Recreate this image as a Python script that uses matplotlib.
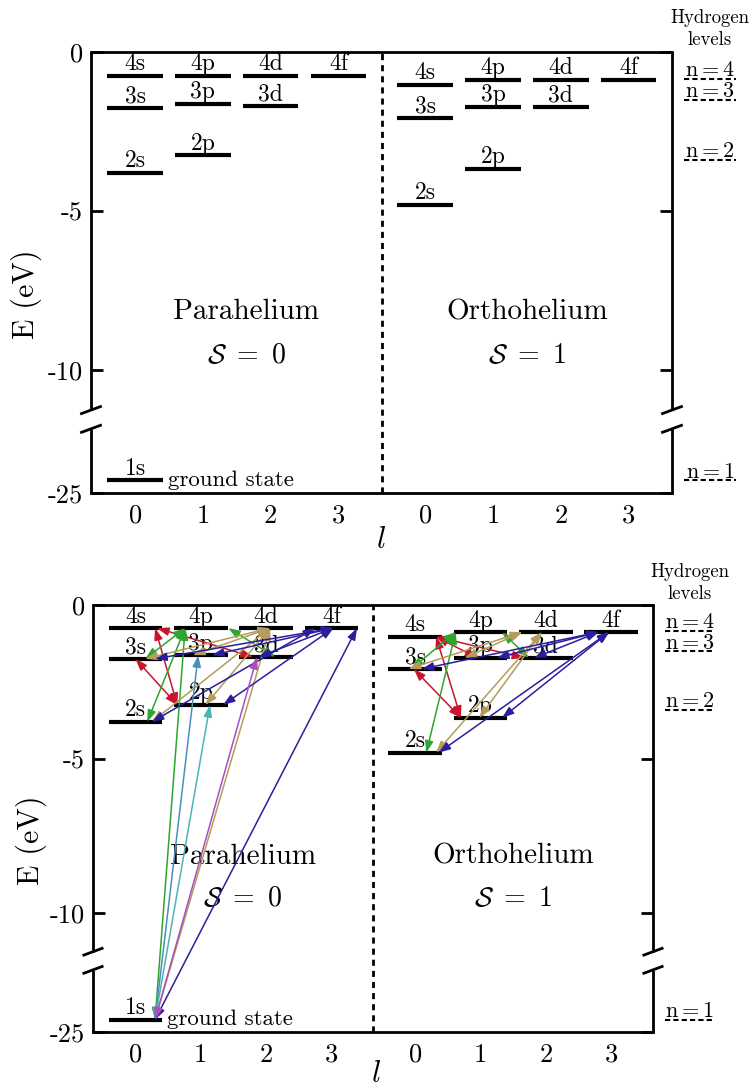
import matplotlib
matplotlib.use('Agg')
from matplotlib import pyplot as plt

plt.rcParams['font.family'] = 'serif'
plt.rcParams['font.serif'] = ['cmr10']
plt.rcParams['mathtext.fontset'] = 'cm'
plt.rcParams['axes.unicode_minus'] = False

# helium levels (eV)
para_names = ['1s', '2s', '3s', '4s', '2p', '3p', '4p', '3d', '4d', '4f']
para_l = [0, 0, 0, 0, 1, 1, 1, 2, 2, 3]
para_E = [-24.6, -3.8, -1.75, -0.75, -3.25, -1.63, -0.75, -1.69, -0.75, -0.75]

ortho_names = ['2s', '3s', '4s', '2p', '3p', '4p', '3d', '4d', '4f']
ortho_l = [0, 0, 0, 1, 1, 1, 2, 2, 3]
ortho_E = [-4.8, -2.08, -1.03, -3.67, -1.72, -0.88, -1.72, -0.88, -0.88]

hydrogen_n = [1, 2, 3, 4]
hydrogen_E = [-24.6, -3.4, -1.51, -0.85]

ytick_vals = [0, -5, -10, -25]
l_ticks = [0, 1, 2, 3]

# transitions: (upper level, x on it, lower level, x on it, colour)
para_trans = [
    ('4s', 0.30, '2p', 0.64, 'red'),
    ('4s', 0.33, '3d', 1.80, 'red'),
    ('3s', 0.00, '2p', 0.64, 'red'),
    ('4p', 0.76, '3s', 0.15, 'green'),
    ('4p', 0.76, '2s', 0.18, 'green'),
    ('4p', 1.42, '3d', 2.14, 'green'),
    ('4p', 0.76, '1s', 0.30, 'green'),
    ('4d', 2.06, '3s', 0.15, 'tan'),
    ('4d', 2.06, '3p', 0.88, 'tan'),
    ('4d', 2.06, '2p', 1.07, 'tan'),
    ('4d', 2.06, '2s', 0.25, 'tan'),
    ('4d', 2.06, '1s', 0.30, 'tan'),
    ('4f', 3.03, '3s', 0.30, 'navy'),
    ('4f', 3.03, '3p', 1.17, 'navy'),
    ('4f', 3.03, '2p', 1.34, 'navy'),
    ('4f', 3.03, '3d', 1.88, 'navy'),
    ('4f', 2.75, '2s', 0.25, 'navy'),
    ('4f', 3.39, '1s', 0.30, 'navy'),
    ('3p', 0.96, '1s', 0.30, 'steel'),
    ('2p', 1.14, '1s', 0.30, 'teal'),
    ('3d', 1.86, '1s', 0.30, 'magenta'),
]
ortho_trans = [
    ('4s', 0.32, '2p', 0.70, 'red'),
    ('3s', -0.02, '2p', 0.70, 'red'),
    ('4s', 0.32, '3p', 0.95, 'red'),
    ('4s', 0.32, '3d', 1.67, 'red'),
    ('4p', 0.62, '3s', -0.06, 'green'),
    ('4p', 0.62, '2s', 0.17, 'green'),
    ('4p', 1.33, '3d', 1.74, 'green'),
    ('4d', 1.64, '3s', -0.10, 'tan'),
    ('4d', 1.64, '3p', 0.76, 'tan'),
    ('4d', 1.94, '2p', 0.98, 'tan'),
    ('4d', 1.94, '2s', 0.32, 'tan'),
    ('4f', 2.81, '3s', 0.10, 'navy'),
    ('4f', 2.81, '3p', 1.25, 'navy'),
    ('4f', 2.81, '3d', 1.82, 'navy'),
    ('4f', 2.97, '2p', 1.33, 'navy'),
    ('4f', 2.97, '2s', 0.36, 'navy'),
]

COLORS = {'red': '#c8152d', 'green': '#2fa52f', 'tan': '#b39c5c',
          'navy': '#2b1e9c', 'steel': '#4a8fbb', 'teal': '#4cb4b4',
          'magenta': '#a84fc0'}

SHIFT = 11.12      # energies below the break are moved up by this
ORTHO_X = 4.28     # x offset of the orthohelium block
XLIM = (-0.65, 7.92)
YLIM = (-13.88, 0)
BREAK = (-11.27, -11.86)
LW = 2.0


def ymap(e):
    return e + SHIFT if e < -12 else e


def draw_panel(ax, trans):
    ax.set_xlim(*XLIM)
    ax.set_ylim(*YLIM)
    for s in ['left', 'right']:
        ax.spines[s].set_visible(False)
    for s in ['top', 'bottom']:
        ax.spines[s].set_linewidth(LW)

    # broken side spines
    for x0 in XLIM:
        ax.plot([x0, x0], [0, BREAK[0]], color='k', lw=LW, clip_on=False,
                solid_capstyle='butt')
        ax.plot([x0, x0], [BREAK[1], YLIM[0]], color='k', lw=LW,
                clip_on=False, solid_capstyle='butt')
        for yb in BREAK:
            ax.plot([x0 - 0.14, x0 + 0.14], [yb - 0.11, yb + 0.11],
                    color='k', lw=LW, clip_on=False)

    ax.set_yticks([ymap(v) for v in ytick_vals])
    ax.set_yticklabels([str(v) for v in ytick_vals])
    ax.set_xticks(l_ticks + [l + ORTHO_X for l in l_ticks])
    ax.set_xticklabels([str(l) for l in l_ticks] * 2)
    ax.tick_params(axis='y', direction='in', length=8.5, width=LW,
                   right=True, labelsize=19, pad=6)
    ax.tick_params(axis='x', length=0, labelsize=19, pad=8)

    ax.axvline(3.64, color='k', lw=LW, ls=(0, (2.2, 1.8)))

    pos = {}
    for offset, names, ls, es in [(0, para_names, para_l, para_E),
                                  (ORTHO_X, ortho_names, ortho_l, ortho_E)]:
        for name, l, e in zip(names, ls, es):
            x = l + offset
            y = ymap(e)
            pos[(offset, name)] = y
            ax.hlines(y, x - 0.41, x + 0.41, color='k', lw=3, zorder=3)
            ax.annotate(name, (x, y), xytext=(0, 4),
                        textcoords='offset points', ha='center',
                        va='baseline', fontsize=17, zorder=4)

    ax.text(0.48, ymap(para_E[0]), 'ground state', ha='left',
            va='center', fontsize=16.5)

    ax.text(1.64, -8.18, 'Parahelium', ha='center', va='center',
            fontsize=21)
    ax.text(1.64, -9.55, r'$\mathcal{S}\ =\ 0$', ha='center', va='center',
            fontsize=20)
    ax.text(5.78, -8.18, 'Orthohelium', ha='center', va='center',
            fontsize=21)
    ax.text(5.78, -9.55, r'$\mathcal{S}\ =\ 1$', ha='center', va='center',
            fontsize=20)

    # hydrogen reference levels
    ax.text(8.48, 0.72, 'Hydrogen\nlevels', ha='center', va='center',
            fontsize=13.5, linespacing=1.25, clip_on=False)
    for n, e in zip(hydrogen_n, hydrogen_E):
        y = ymap(e)
        ax.plot([8.1, 8.87], [y, y], color='k', lw=1.5, ls=(0, (2.5, 1.5)),
                clip_on=False)
        ax.annotate(r'$\mathrm{n}=%d$' % n, (8.48, y), xytext=(0, 2),
                    textcoords='offset points', ha='center', va='baseline',
                    fontsize=16, annotation_clip=False)

    for offset, tr in trans:
        for up, xu, lo, xl, c in tr:
            ax.annotate('', xy=(xu + offset, pos[(offset, up)]),
                        xytext=(xl + offset, pos[(offset, lo)]),
                        arrowprops=dict(
                            arrowstyle='<|-|>,head_length=0.7,head_width=0.25',
                            color=COLORS[c], lw=1.1, mutation_scale=10,
                            shrinkA=0, shrinkB=0),
                        zorder=5)

    ax.set_ylabel('E (eV)', fontsize=21.5)
    ax.set_xlabel(r'$l$', fontsize=22)


fig = plt.figure(figsize=(7.52, 10.89), dpi=100)
ax1 = fig.add_axes([91 / 752, 1 - 493 / 1089, 581 / 752, 441 / 1089])
ax2 = fig.add_axes([93 / 752, 1 - 1032 / 1089, 560 / 752, 427 / 1089])

draw_panel(ax1, [])
draw_panel(ax2, [(0, para_trans), (ORTHO_X, ortho_trans)])

ax1.yaxis.set_label_coords(-0.085, 0.45)
ax2.yaxis.set_label_coords(-0.082, 0.45)
ax1.xaxis.set_label_coords(0.5, -0.075)
ax2.xaxis.set_label_coords(0.505, -0.068)

fig.savefig('out.png', dpi=100)
